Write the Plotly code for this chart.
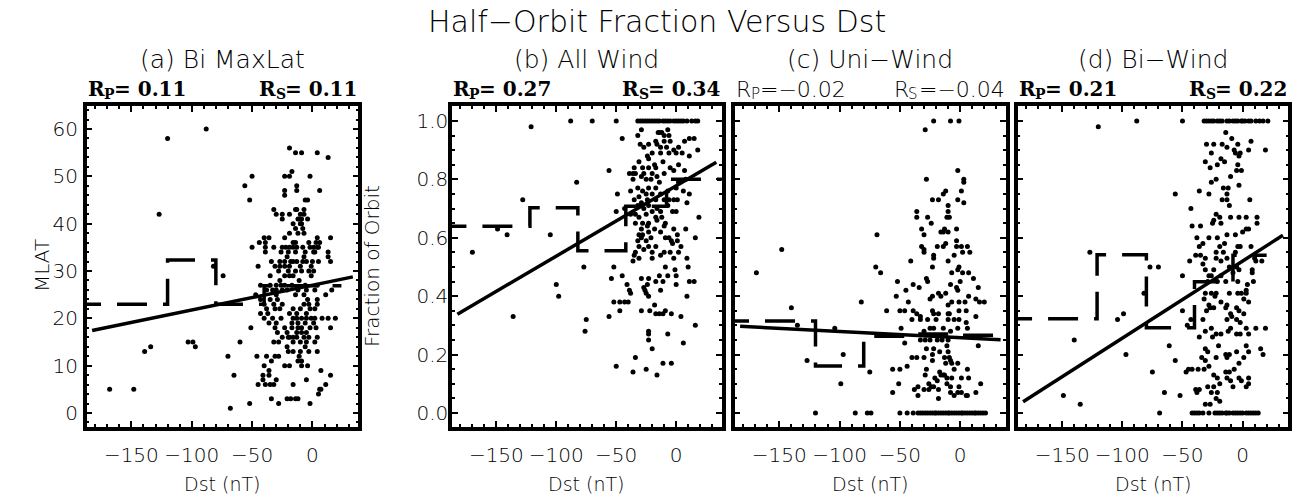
import plotly.graph_objects as go

# ---------------------------------------------------------------- data
DST_RANGE = [-187, 38]
FIT_DST = [-182.5, 33.5]

# (a) Bi MaxLat: (Dst, MLAT)
a_pts = [
    (-88, 60), (-120, 58), (-19, 56), (-14, 55), (-9, 55), (4, 55), (13, 54), (-17, 51),
    (-50, 50), (-23, 50), (-19, 50), (-2, 50), (-56, 48), (-13, 48), (-23, 47), (-13, 47), (6, 47),
    (-23, 46), (-52, 45), (-6, 45), (-4, 45), (-32, 43), (-14, 43), (-13, 43), (-7, 43),
    (-127, 42), (-30, 42), (-25, 42), (-19, 42), (-10, 42), (-7, 42),
    (-25, 41), (-12, 41), (-11, 41), (-9, 41), (-4, 41), (-16, 40), (-10, 40), (-9, 40),
    (-14, 39), (-8, 39), (-19, 38), (-12, 38), (-7, 38),
    (-40, 37), (-36, 37), (-23, 37), (4, 37), (15, 37),
    (-44, 36), (-39, 36), (-16, 36), (-14, 36), (-3, 36), (3, 36), (6, 36),
    (-50, 35), (-39, 35), (-32, 35), (-25, 35), (-22, 35), (-19, 35), (-16, 35), (-13, 35),
    (-8, 35), (-2, 35), (1, 35), (4, 35), (5, 35),
    (-39, 34), (-26, 34), (-20, 34), (-14, 34), (-6, 34), (1, 34), (2, 34), (13, 34),
    (-21, 33), (-7, 33), (13, 33),
    (-34, 32), (-27, 32), (-23, 32), (-18, 32), (-16, 32), (-13, 32), (-8, 32), (-5, 32),
    (0, 32), (5, 32), (15, 32),
    (-82, 31), (-45, 31), (-31, 31), (-27, 31), (-23, 31), (-19, 31), (-10, 31), (-1, 31),
    (-28, 30), (-20, 30), (-14, 30), (-9, 30), (-3, 30), (1, 30),
    (-74, 29), (-35, 29), (-23, 29), (-19, 29), (-16, 29), (-1, 29), (-27, 28), (-11, 28),
    (-43, 27), (-35, 27), (-30, 27), (-26, 27), (-23, 27), (-17, 27), (-6, 27), (4, 27),
    (-38, 26), (-33, 26), (-30, 26), (-25, 26), (-21, 26), (-12, 26), (-5, 26), (2, 26), (16, 26),
    (-47, 25), (-30, 25), (-14, 25), (-7, 25), (11, 25),
    (-43, 24), (-35, 24), (-29, 24), (-4, 24), (4, 24),
    (-40, 23), (-32, 23), (-25, 23), (-7, 23), (-3, 23), (4, 23),
    (-38, 22), (-31, 22), (-27, 22), (-16, 22), (-10, 22), (-2, 22), (2, 22),
    (-43, 21), (-37, 21), (-19, 21), (-13, 21), (-5, 21),
    (-40, 20), (-33, 20), (-26, 20), (-16, 20), (-13, 20), (-9, 20), (-5, 20), (-1, 20),
    (2, 20), (8, 20), (13, 20), (19, 20),
    (-36, 19), (-30, 19), (-17, 19), (-12, 19), (-6, 19), (1, 19),
    (-51, 18), (-31, 18), (-23, 18), (-17, 18), (-12, 18), (-9, 18), (-2, 18), (3, 18), (15, 18),
    (-29, 17), (-21, 17), (-13, 17), (-9, 17), (-5, 17),
    (-25, 16), (-20, 16), (-19, 16), (-16, 16), (-13, 16), (-7, 16), (-3, 16), (4, 16),
    (-103, 15), (-99, 15), (-60, 15), (-32, 15), (-28, 15), (-16, 15), (-10, 15), (-5, 15), (2, 15),
    (-134, 14), (-97, 14), (-21, 14), (-6, 14),
    (-139, 13), (-20, 13), (-16, 13), (-10, 13), (-3, 13), (4, 13),
    (-70, 12), (-46, 12), (-38, 12), (-31, 12), (-28, 12), (-11, 12),
    (-34, 11), (-12, 11), (-9, 11), (-40, 10), (-23, 10), (-19, 10), (-9, 10), (-4, 10),
    (-36, 9), (7, 9), (-65, 8), (-41, 8), (-36, 8), (15, 8), (-41, 7), (-30, 7), (-5, 7),
    (-45, 6), (-39, 6), (-35, 6), (-32, 6), (-16, 6), (11, 6),
    (-168, 5), (-148, 5), (6, 5), (7, 5), (5, 4),
    (-34, 3), (-21, 3), (-18, 3), (-14, 3), (-12, 3), (-52, 2), (-28, 2), (-2, 2), (-68, 1),
]

# (b) All Wind: (Dst, fraction of orbit)
b_pts = [
    (-88, 1.0), (-70, 1.0), (-50, 1.0), (-32, 1.0), (-30, 1.0), (-28, 1.0), (-26, 1.0), (-24, 1.0),
    (-22, 1.0), (-20, 1.0), (-18, 1.0), (-16, 1.0), (-14, 1.0), (-11, 1.0), (-9, 1.0), (-7, 1.0),
    (-5, 1.0), (-2, 1.0), (0, 1.0), (2, 1.0), (4, 1.0), (6, 1.0), (9, 1.0), (13, 1.0), (16, 1.0), (18, 1.0),
    (-121, 0.98), (-83, 0.79), (-128, 0.73), (-149, 0.63), (-141, 0.61), (-105, 0.61), (-170, 0.55),
    (-77, 0.50), (-100, 0.44), (-98, 0.40), (-136, 0.33), (-75, 0.32), (-76, 0.28),
    (-29, 0.97), (-15, 0.96), (-12, 0.96), (-14, 0.96), (-7, 0.97), (-32, 0.95), (-10, 0.95), (-6, 0.95),
    (-45, 0.94), (-30, 0.92), (-17, 0.93), (-10, 0.93), (-5, 0.93), (-23, 0.92), (7, 0.93), (11, 0.94), (15, 0.94),
    (-27, 0.91), (-16, 0.92), (-13, 0.91), (-8, 0.91), (-2, 0.90), (2, 0.91), (18, 0.90),
    (-20, 0.89), (-24, 0.88), (-13, 0.89), (-6, 0.89), (0, 0.89), (5, 0.89), (11, 0.88),
    (-31, 0.86), (-23, 0.87), (-18, 0.85), (-11, 0.86), (2, 0.85),
    (-35, 0.84), (-28, 0.84), (-23, 0.84), (-17, 0.84), (-5, 0.84),
    (-56, 0.83), (-39, 0.82), (-36, 0.82), (-34, 0.82), (-27, 0.82), (-20, 0.82), (-16, 0.81),
    (-10, 0.82), (-2, 0.83), (7, 0.83),
    (-36, 0.80), (-29, 0.81), (-25, 0.80), (-21, 0.80), (-14, 0.79), (2, 0.79), (8, 0.80),
    (-38, 0.76), (-32, 0.77), (-28, 0.76), (-23, 0.77), (-17, 0.77), (-7, 0.76), (0, 0.77),
    (-49, 0.75), (-31, 0.74), (-25, 0.75), (-20, 0.75), (-13, 0.75), (6, 0.76), (11, 0.75),
    (-35, 0.73), (-29, 0.72), (-24, 0.73), (-17, 0.73), (-10, 0.73), (-6, 0.73), (-2, 0.73),
    (1, 0.73), (9, 0.72),
    (-32, 0.71), (-23, 0.71), (-16, 0.70), (-7, 0.71),
    (-50, 0.69), (-43, 0.70), (-34, 0.68), (-27, 0.70), (-20, 0.69), (-13, 0.69), (-3, 0.69), (0, 0.69),
    (-38, 0.68), (-31, 0.67), (-25, 0.68), (-17, 0.67), (-12, 0.67), (19, 0.67),
    (-34, 0.65), (-28, 0.65), (-23, 0.65), (-16, 0.66), (-9, 0.65),
    (-29, 0.63), (-24, 0.64), (-18, 0.63), (-10, 0.64), (-2, 0.63), (8, 0.63),
    (-31, 0.61), (-28, 0.61), (-23, 0.62), (-13, 0.62), (-6, 0.60), (1, 0.61), (16, 0.60),
    (-32, 0.59), (-29, 0.60), (-25, 0.59), (-21, 0.60), (-9, 0.60), (-4, 0.59), (1, 0.59),
    (-31, 0.57), (-23, 0.57), (-17, 0.57), (-3, 0.58), (4, 0.57),
    (-34, 0.55), (-27, 0.56), (-20, 0.55), (-13, 0.54), (-10, 0.55), (-5, 0.55), (2, 0.55),
    (-35, 0.54), (-31, 0.53), (-20, 0.53), (-2, 0.53), (9, 0.53), (-36, 0.52),
    (-52, 0.50), (-9, 0.50), (-1, 0.49), (10, 0.50),
    (-45, 0.47), (-29, 0.46), (-23, 0.46), (-14, 0.47), (-7, 0.47), (0, 0.47), (-54, 0.46),
    (-41, 0.44), (-24, 0.44), (-17, 0.45), (-11, 0.45), (11, 0.45), (15, 0.45),
    (-39, 0.42), (-27, 0.43), (-13, 0.42), (0, 0.44),
    (-38, 0.41), (-26, 0.42), (-25, 0.41), (-23, 0.40), (9, 0.40),
    (-52, 0.38), (-47, 0.38), (-43, 0.38), (-40, 0.38), (-18, 0.37),
    (-47, 0.35), (-29, 0.35), (-22, 0.35), (-17, 0.34), (-14, 0.34), (-11, 0.34), (-9, 0.35),
    (-4, 0.34), (4, 0.33), (-56, 0.33), (16, 0.30),
    (-23, 0.28), (-23, 0.27), (-23, 0.25), (-7, 0.27), (-20, 0.22), (6, 0.24), (-34, 0.19),
    (-50, 0.16), (-36, 0.14), (-25, 0.15), (-16, 0.13), (-11, 0.17), (-4, 0.17),
]

# (c) Uni-Wind: (Dst, fraction of orbit)
c_pts = [
    (-169, 0.48), (-148, 0.56), (-140, 0.36), (-135, 0.30), (-127, 0.18), (-104, 0.29), (-99, 0.10),
    (-97, 0.20), (-82, 0.38), (-75, 0.14), (-69, 0.61), (-70, 0.50), (-66, 0.48),
    (-22, 1.0), (-8, 1.0), (-1, 1.0), (-29, 0.97), (-2, 0.83), (-28, 0.80), (3, 0.80), (3, 0.79),
    (1, 0.76), (-12, 0.76), (-14, 0.75), (-18, 0.73), (-23, 0.73), (-2, 0.73), (3, 0.72),
    (-10, 0.71), (-10, 0.69), (-36, 0.69), (-36, 0.67), (-27, 0.67), (-11, 0.67), (-9, 0.67), (-24, 0.65),
    (-32, 0.63), (-30, 0.61), (-13, 0.63), (-16, 0.62), (-14, 0.62), (-10, 0.62), (-3, 0.63),
    (-12, 0.58), (-14, 0.57), (-32, 0.57), (-30, 0.56), (-19, 0.57), (-3, 0.59), (-30, 0.55),
    (-3, 0.57), (1, 0.57), (6, 0.57), (-5, 0.54), (2, 0.55), (8, 0.55), (-22, 0.54), (-22, 0.53),
    (-23, 0.50), (-10, 0.52), (-1, 0.50), (-41, 0.52),
    (-7, 0.48), (-2, 0.49), (2, 0.48), (7, 0.48), (-28, 0.46), (-27, 0.45),
    (-52, 0.45), (-39, 0.44), (-34, 0.43), (-45, 0.42), (-8, 0.44), (0, 0.45), (11, 0.46), (-3, 0.43), (-2, 0.42),
    (-53, 0.40), (-23, 0.40), (-18, 0.41), (-16, 0.40), (-12, 0.41), (7, 0.40), (15, 0.43),
    (-43, 0.38), (-25, 0.39), (-10, 0.37), (-7, 0.38), (-1, 0.38), (4, 0.38), (13, 0.39), (16, 0.38), (20, 0.38),
    (-61, 0.35), (-50, 0.35), (-46, 0.35), (-39, 0.35), (-36, 0.34), (-33, 0.33), (-23, 0.35), (-22, 0.34),
    (-18, 0.34), (-10, 0.34), (-9, 0.34), (-1, 0.35), (5, 0.35), (13, 0.33),
    (-40, 0.32), (-33, 0.32), (-27, 0.32), (-20, 0.32), (-10, 0.32), (-5, 0.32), (-1, 0.32), (5, 0.31),
    (-49, 0.29), (-30, 0.28), (-25, 0.29), (-22, 0.29), (-14, 0.29), (-8, 0.28), (-2, 0.29), (6, 0.29),
    (-46, 0.24), (-33, 0.25), (-29, 0.25), (-25, 0.25), (-19, 0.25), (-15, 0.25), (-10, 0.25), (15, 0.23),
    (-28, 0.22), (-22, 0.22), (-17, 0.21), (-11, 0.23), (-10, 0.21),
    (-40, 0.19), (-36, 0.19), (-30, 0.19), (-23, 0.20), (-13, 0.19), (-9, 0.19), (-8, 0.18), (-23, 0.18),
    (-12, 0.17), (-7, 0.17), (-2, 0.17),
    (-56, 0.15), (-50, 0.15), (-44, 0.16), (-28, 0.15), (-17, 0.14), (-14, 0.13), (-13, 0.13), (-5, 0.15), (6, 0.15),
    (-29, 0.13), (-21, 0.12), (-16, 0.13), (-11, 0.12), (-7, 0.12), (1, 0.12), (7, 0.12),
    (-51, 0.10), (-35, 0.09), (-26, 0.10), (-24, 0.09), (-19, 0.11), (-11, 0.10), (-8, 0.09), (-1, 0.09), (17, 0.10),
    (-38, 0.08), (-30, 0.08), (-26, 0.08), (-22, 0.09), (-18, 0.08), (-8, 0.07), (-2, 0.07), (1, 0.07), (6, 0.06),
    (-56, 0.07), (-35, 0.06), (-18, 0.05), (-5, 0.06), (5, 0.06), (13, 0.07),
    (-120, 0.0), (-87, 0.0), (-77, 0.0), (-74, 0.0), (-50, 0.0), (-44, 0.0), (-39, 0.0), (-35, 0.0),
    (-33, 0.0), (-31, 0.0), (-29, 0.0), (-27, 0.0), (-25, 0.0), (-23, 0.0), (-21, 0.0), (-20, 0.0),
    (-18, 0.0), (-16, 0.0), (-14, 0.0), (-12, 0.0), (-10, 0.0), (-9, 0.0), (-7, 0.0), (-5, 0.0),
    (-3, 0.0), (-1, 0.0), (1, 0.0), (2, 0.0), (4, 0.0), (6, 0.0), (8, 0.0), (10, 0.0), (12, 0.0),
    (13, 0.0), (15, 0.0), (17, 0.0), (19, 0.0), (21, 0.0),
]

# (d) Bi-Wind: (Dst, fraction of orbit)
d_pts = [
    (-120, 0.98), (-88, 1.0), (-127, 0.55), (-77, 0.50), (-70, 0.50), (-82, 0.41), (-99, 0.34),
    (-104, 0.32), (-140, 0.25), (-97, 0.20), (-75, 0.14), (-149, 0.06), (-135, 0.03), (-69, 0.0),
    (-50, 1.0), (-32, 1.0), (-30, 1.0), (-28, 1.0), (-26, 1.0), (-24, 1.0), (-21, 1.0), (-19, 1.0),
    (-17, 1.0), (-13, 1.0), (-11, 1.0), (-8, 1.0), (-6, 1.0), (-4, 1.0), (-1, 1.0), (0, 1.0), (2, 1.0),
    (5, 1.0), (7, 1.0), (11, 1.0), (14, 1.0), (17, 1.0), (21, 1.0),
    (-14, 0.96), (-30, 0.92), (-24, 0.92), (-17, 0.92), (-9, 0.94), (-4, 0.92), (-13, 0.91),
    (-7, 0.90), (-6, 0.89), (-2, 0.89), (5, 0.90), (7, 0.93), (19, 0.90), (-3, 0.88), (-26, 0.89), (-18, 0.87),
    (-31, 0.86), (-21, 0.85), (-15, 0.86), (-4, 0.85), (-27, 0.84), (-5, 0.83), (-1, 0.83),
    (-22, 0.80), (-10, 0.81), (-26, 0.79), (-36, 0.76), (-16, 0.77), (-12, 0.77), (-3, 0.78),
    (-56, 0.75), (-28, 0.75), (-13, 0.75), (-13, 0.73), (-17, 0.73), (6, 0.73), (-11, 0.71), (-43, 0.70),
    (-22, 0.68), (-24, 0.66), (-19, 0.67), (-10, 0.67), (-3, 0.67), (3, 0.67), (12, 0.67),
    (-42, 0.64), (-35, 0.64), (-25, 0.65), (-18, 0.65), (12, 0.65), (5, 0.63), (0, 0.62), (3, 0.63),
    (-38, 0.60), (-33, 0.58), (-28, 0.60), (-21, 0.60), (-13, 0.61), (-6, 0.61),
    (-36, 0.57), (-19, 0.57), (-15, 0.58), (-4, 0.57), (-2, 0.57), (7, 0.57),
    (-39, 0.54), (-35, 0.54), (-31, 0.53), (-22, 0.55), (-16, 0.55), (-6, 0.55),
    (-44, 0.52), (-33, 0.51), (-22, 0.53), (-18, 0.52), (-13, 0.53), (10, 0.53), (11, 0.52), (16, 0.52),
    (-50, 0.47), (-31, 0.49), (-28, 0.47), (-24, 0.49), (-11, 0.50), (-5, 0.50), (-3, 0.49), (8, 0.49), (8, 0.48),
    (-26, 0.47), (-18, 0.47), (-8, 0.48), (-21, 0.45), (-29, 0.45), (-4, 0.45), (-14, 0.45), (9, 0.45),
    (4, 0.44), (3, 0.42), (-1, 0.41), (-4, 0.41), (-31, 0.41), (-26, 0.41), (-22, 0.41), (-11, 0.41), (-23, 0.40),
    (-32, 0.39), (-28, 0.37), (-18, 0.38), (-13, 0.37), (5, 0.38), (1, 0.39), (3, 0.41),
    (-27, 0.36), (-24, 0.36), (-14, 0.36), (-5, 0.36), (-30, 0.35), (-10, 0.34), (-3, 0.35), (-50, 0.35), (1, 0.34),
    (-43, 0.32), (-33, 0.32), (-13, 0.32), (-9, 0.33), (-5, 0.32), (-2, 0.31), (-46, 0.30),
    (-31, 0.28), (-26, 0.29), (-22, 0.27), (-18, 0.27), (-12, 0.28), (-10, 0.29), (-5, 0.27), (-2, 0.27),
    (3, 0.29), (5, 0.27), (11, 0.29), (19, 0.29), (-36, 0.26), (-25, 0.26),
    (-61, 0.23), (-31, 0.22), (-29, 0.21), (-20, 0.23), (-14, 0.20), (-11, 0.20), (-5, 0.21), (3, 0.23),
    (5, 0.21), (15, 0.22), (17, 0.20),
    (-34, 0.19), (-31, 0.18), (-56, 0.18), (-22, 0.19), (-13, 0.19), (1, 0.19),
    (-45, 0.15), (-42, 0.15), (-37, 0.15), (-32, 0.15), (-28, 0.16), (-3, 0.17), (-47, 0.14),
    (-24, 0.13), (-21, 0.12), (-14, 0.14), (-11, 0.14), (-7, 0.15), (-19, 0.10), (-13, 0.12), (-10, 0.11),
    (-3, 0.12), (-1, 0.11), (5, 0.12),
    (-36, 0.08), (-39, 0.08), (-29, 0.09), (-24, 0.09), (-8, 0.09), (3, 0.09), (5, 0.10),
    (-38, 0.07), (-26, 0.07), (-21, 0.07), (-65, 0.07), (-52, 0.06),
    (-31, 0.03), (-27, 0.03), (-22, 0.05), (-19, 0.04),
    (-42, 0.0), (-40, 0.0), (-38, 0.0), (-36, 0.0), (-33, 0.0), (-28, 0.0), (-23, 0.0), (-21, 0.0),
    (-19, 0.0), (-17, 0.0), (-14, 0.0), (-13, 0.0), (-11, 0.0), (-8, 0.0), (-6, 0.0), (-4, 0.0),
    (-2, 0.0), (0, 0.0), (3, 0.0), (5, 0.0), (7, 0.0), (9, 0.0), (11, 0.0), (13, 0.0),
]

# binned averages (bin edges and value per bin)
a_bin_edges = [-200, -120, -80, -40, 24]
a_bin_vals = [23.0, 32.3, 23.0, 26.9]
b_bin_edges = [-200, -122, -82, -42, -8, 45]
b_bin_vals = [0.639, 0.703, 0.555, 0.708, 0.80]
c_bin_edges = [-200, -120, -80, -40, -8, 38]
c_bin_vals = [0.315, 0.161, 0.263, 0.270, 0.266]
d_bin_edges = [-200, -121, -80, -40, -8, 20]
d_bin_vals = [0.323, 0.542, 0.292, 0.449, 0.540]

# linear fits: (intercept, slope)
a_fit = (27.0, 0.0525)
b_fit = (0.778, 0.00241)
c_fit = (0.258, -0.000213)
d_fit = (0.520, 0.00264)

# correlation coefficients (Pearson, Spearman)
a_r = ("0.11", "0.11")
b_r = ("0.27", "0.34")
c_r = ("−0.02", "−0.04")
d_r = ("0.21", "0.22")

titles = ["(a) Bi MaxLat", "(b) All Wind", "(c) Uni−Wind", "(d) Bi−Wind"]
dst_ticks = [-150, -100, -50, 0]
mlat_ticks = [0, 10, 20, 30, 40, 50, 60]
frac_ticks = [0.0, 0.2, 0.4, 0.6, 0.8, 1.0]

# ---------------------------------------------------------------- layout
W, H = 1305, 498
panel_px = [(86.7, 358.3), (452.0, 721.7), (734.7, 1006.0), (1017.7, 1288.3)]
y_dom = [1 - 427 / H, 1 - 106 / H]
ylab_standoff = [1, -4, 0, 0]
R_ROW = 89  # centre line of the correlation labels, px from top

THIN = dict(family="DejaVu Sans", color="black", weight=200)
SERIF = dict(family="DejaVu Serif", color="black", weight="bold")

panels = [
    (a_pts, a_bin_edges, a_bin_vals, a_fit, a_r, [-2.96, 64.86]),
    (b_pts, b_bin_edges, b_bin_vals, b_fit, b_r, [-0.048, 1.051]),
    (c_pts, c_bin_edges, c_bin_vals, c_fit, c_r, [-0.048, 1.051]),
    (d_pts, d_bin_edges, d_bin_vals, d_fit, d_r, [-0.048, 1.051]),
]

fig = go.Figure()
annotations = []
axis_common = dict(
    showline=True, linewidth=3.5, linecolor="black", mirror="allticks",
    ticks="inside", ticklen=6, tickwidth=2, tickcolor="black",
    showgrid=False, zeroline=False,
    tickfont=dict(THIN, size=20),
)


def r_label(letter, value, x_px, align, thin):
    """R with a subscript letter followed by '= value', anchored at x_px."""
    if thin:
        big, small, w_r, w_sub = dict(THIN, size=22), dict(THIN, size=15), 15, 9
    else:
        big, small, w_r, w_sub = dict(SERIF, size=20), dict(SERIF, size=14), 16, 10
    rest = "=" + ("" if value.startswith("−") else " ") + value
    # approximate rendered width of the "= value" part
    w_rest = 0
    for c in rest:
        w_rest += {"=": 0.84, "−": 0.84, " ": 0.34, ".": 0.36}.get(c, 0.68 if not thin else 0.64)
    w_rest *= (20 if not thin else 22)
    if align == "left":
        offs = (0, w_r, w_r + w_sub)
        anchor = "left"
    else:
        offs = (-(w_rest + w_sub), -w_rest, 0)
        anchor = "right"
    items = [("R", big, offs[0], 0), (letter, small, offs[1], -5), (rest, big, offs[2], 0)]
    out = []
    for txt, fnt, dx, dy in items:
        out.append(dict(text=txt, x=x_px / W, y=1 - R_ROW / H, xanchor=anchor, yanchor="middle",
                        xshift=dx, yshift=dy, font=fnt, borderpad=0))
    return out


for i, (pts, edges, vals, fit, rr, yr) in enumerate(panels):
    n = i + 1
    xs = [p[0] for p in pts]
    ys = [p[1] for p in pts]
    xa = "x" if n == 1 else f"x{n}"
    ya = "y" if n == 1 else f"y{n}"

    fig.add_trace(go.Scatter(
        x=xs, y=ys, mode="markers", xaxis=xa, yaxis=ya,
        marker=dict(size=5, color="black"), showlegend=False, hoverinfo="skip"))

    step_x = list(edges)
    step_y = list(vals) + [vals[-1]]
    fig.add_trace(go.Scatter(
        x=step_x, y=step_y, mode="lines", line_shape="hv", xaxis=xa, yaxis=ya,
        line=dict(color="black", width=3.5, dash="30px,16px"), showlegend=False, hoverinfo="skip"))

    b0, b1 = fit
    fig.add_trace(go.Scatter(
        x=FIT_DST, y=[b0 + b1 * FIT_DST[0], b0 + b1 * FIT_DST[1]], mode="lines",
        xaxis=xa, yaxis=ya, line=dict(color="black", width=3.5),
        showlegend=False, hoverinfo="skip"))

    left, right = panel_px[i]
    xdom = [left / W, right / W]
    xkey = "xaxis" if n == 1 else f"xaxis{n}"
    ykey = "yaxis" if n == 1 else f"yaxis{n}"
    fig.layout[xkey] = dict(
        axis_common, domain=xdom, range=DST_RANGE, anchor=ya,
        tickvals=dst_ticks, ticklabelstandoff=7,
        minor=dict(dtick=10, tick0=0, ticks="inside", ticklen=3, tickwidth=1.5, tickcolor="black"))
    if n == 1:
        ytick = dict(tickvals=mlat_ticks, showticklabels=True,
                     minor=dict(dtick=2, tick0=0, ticks="inside", ticklen=3, tickwidth=1.5, tickcolor="black"))
    else:
        ytick = dict(tickvals=frac_ticks, tickformat=".1f", showticklabels=(n == 2),
                     minor=dict(dtick=0.05, tick0=0, ticks="inside", ticklen=3, tickwidth=1.5, tickcolor="black"))
    fig.layout[ykey] = dict(axis_common, domain=y_dom, range=yr, anchor=xa,
                            ticklabelstandoff=ylab_standoff[i], **ytick)

    cx = (left + right) / 2 / W
    annotations.append(dict(text=titles[i], x=cx, y=1 - 60 / H, xanchor="center", yanchor="middle",
                            font=dict(THIN, size=25)))
    thin = (n == 3)
    annotations += r_label("P", rr[0], left, "left", thin)
    annotations += r_label("S", rr[1], right, "right", thin)
    annotations.append(dict(text="Dst (nT)", x=cx, y=0.004, xanchor="center", yanchor="bottom",
                            font=dict(THIN, size=19), borderpad=0))

annotations.append(dict(text="Half−Orbit Fraction Versus Dst", x=657 / W, y=1 - 22 / H,
                        xanchor="center", yanchor="middle", font=dict(THIN, size=30)))
annotations.append(dict(text="MLAT", x=42 / W, y=1 - 266 / H, textangle=-90,
                        xanchor="center", yanchor="middle", font=dict(THIN, size=20)))
annotations.append(dict(text="Fraction of Orbit", x=372 / W, y=1 - 266 / H, textangle=-90,
                        xanchor="center", yanchor="middle", font=dict(THIN, size=20)))
for an in annotations:
    an.update(xref="paper", yref="paper", showarrow=False)

fig.update_layout(
    width=W, height=H, margin=dict(l=0, r=0, t=0, b=0),
    paper_bgcolor="white", plot_bgcolor="white",
    annotations=annotations,
)

fig.write_html("out.html")
